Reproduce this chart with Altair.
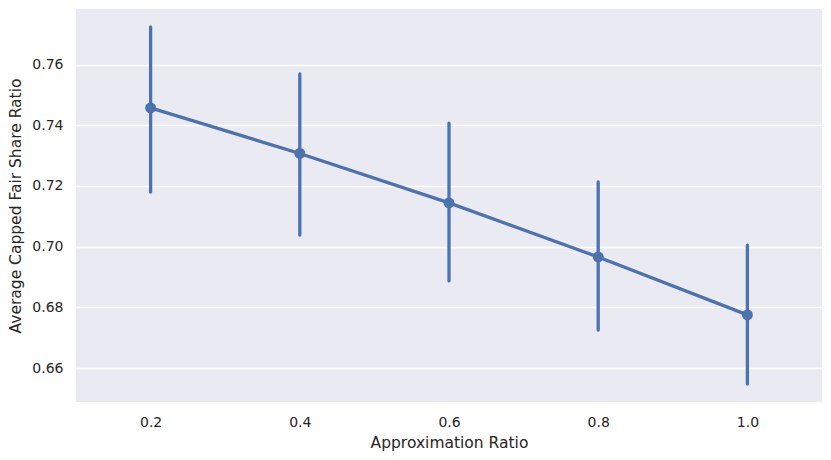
import altair as alt
import pandas as pd

ratios = [0.2, 0.4, 0.6, 0.8, 1.0]
means = [0.7457, 0.7307, 0.7144, 0.6966, 0.6775]
lows = [0.7180, 0.7038, 0.6887, 0.6725, 0.6547]
highs = [0.7724, 0.7569, 0.7407, 0.7213, 0.7005]
y_ticks = [0.66, 0.68, 0.70, 0.72, 0.74, 0.76]

df = pd.DataFrame({"ratio": ratios, "mean": means, "low": lows, "high": highs})

color = "#4C72B0"
font = "DejaVu Sans"

x = alt.X("ratio:Q", title="Approximation Ratio",
          scale=alt.Scale(domain=[0.1, 1.1], nice=False, zero=False),
          axis=alt.Axis(values=ratios, format=".1f", grid=False, domain=False, ticks=False,
                        labelFontSize=14, labelPadding=13, titleFontSize=15.5,
                        titlePadding=6, labelColor="#262626", titleColor="#262626",
                        labelFont=font, titleFont=font, titleFontWeight="normal"))
y_scale = alt.Scale(domain=[0.6488, 0.7783], nice=False, zero=False)
y_axis = alt.Axis(values=y_ticks, format=".2f", grid=True, gridColor="white", gridWidth=1.3,
                  gridOpacity=1, domain=False, ticks=False, labelFontSize=14, labelPadding=13,
                  titleFontSize=15.5, titlePadding=8, labelColor="#262626",
                  titleColor="#262626", labelFont=font, titleFont=font,
                  titleFontWeight="normal")

base = alt.Chart(df)
line = base.mark_line(color=color, strokeWidth=3.3).encode(
    x=x, y=alt.Y("mean:Q", title="Average Capped Fair Share Ratio", scale=y_scale, axis=y_axis))
err = base.mark_rule(color=color, strokeWidth=3.3, strokeCap="round").encode(
    x="ratio:Q", y="low:Q", y2="high:Q")
pts = base.mark_circle(color=color, size=120, opacity=1).encode(x="ratio:Q", y="mean:Q")

chart = alt.layer(line, err, pts).properties(
    width=746, height=393,
    background="white",
    autosize=alt.AutoSizeParams(type="none"),
    padding={"left": 68, "top": 1, "right": 1, "bottom": 50},
).configure_view(fill="#EAEAF2", strokeWidth=0)

chart.save("out.html", embed_options={"renderer": "svg", "actions": False})
